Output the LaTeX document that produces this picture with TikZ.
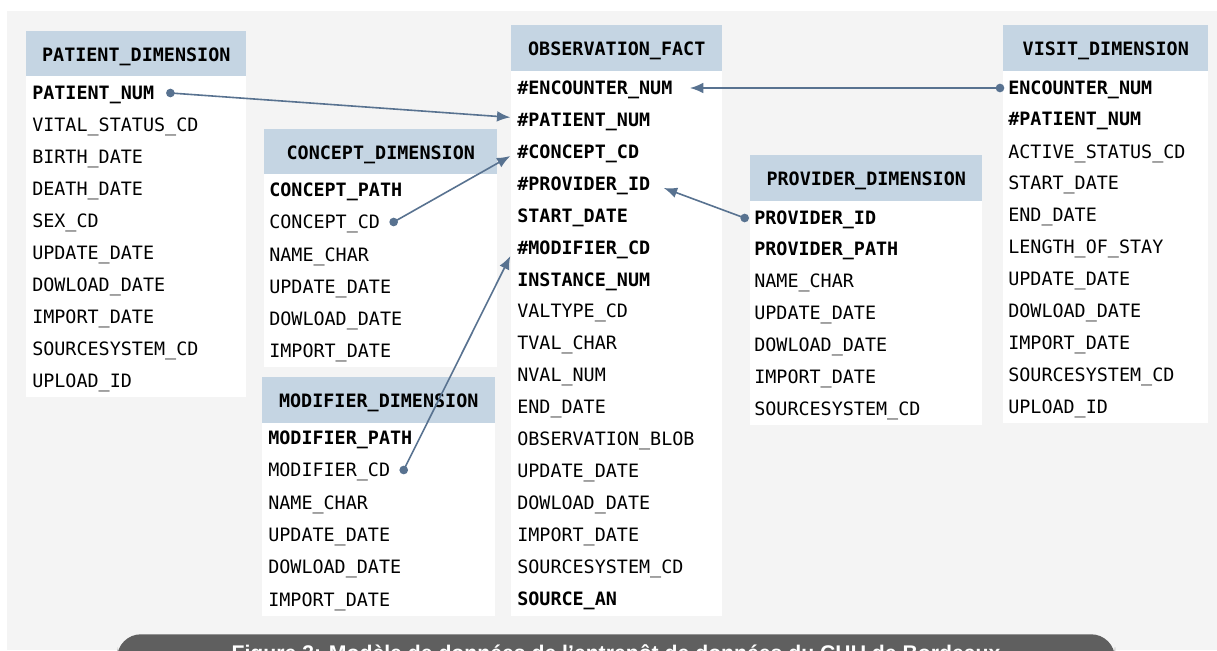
\documentclass[tikz,border=0pt]{standalone}
\usepackage{fontspec}
\setmonofont{DejaVu Sans Mono}
\setsansfont{Liberation Sans}
\usetikzlibrary{arrows.meta}
\definecolor{hdrblue}{HTML}{C5D5E3}
\definecolor{bggray}{HTML}{F4F4F4}
\definecolor{linkblue}{HTML}{587290}
\definecolor{capgray}{HTML}{5F5F5F}

\begin{document}
\begin{tikzpicture}[x=0.75pt, y=-0.75pt,
  hdr/.style={fill=hdrblue, inner sep=0pt, anchor=north west, text height=11pt, text depth=0pt, font=\ttfamily\bfseries\fontsize{13.8}{16}\selectfont},
  body/.style={fill=white, inner sep=0pt, anchor=north west},
  fld/.style={inner sep=0pt, anchor=west, text height=10pt, text depth=0pt, font=\ttfamily\fontsize{13.8}{16}\selectfont},
  key/.style={fld, font=\ttfamily\bfseries\fontsize{13.8}{16}\selectfont},
  link/.style={draw=linkblue, line width=1.2pt, -{Latex[length=10pt,width=8pt]}},
  dot/.style={circle, fill=linkblue, inner sep=0pt, minimum size=6.5pt}]
  \useasboundingbox (0,0) rectangle (1217,650);
  \fill[bggray] (7,11) rectangle (1217,650);

  % PATIENT_DIMENSION
  \node[hdr, minimum width=165pt, minimum height=33.75pt] (patHead) at (26,31) {PATIENT\_DIMENSION};
  \node[body, minimum width=165pt, minimum height=240.75pt] (patBody) at (26,76) {};
  \node[key] (pat1) at (32,93) {PATIENT\_NUM};
  \node[fld] (pat2) at (32,125) {VITAL\_STATUS\_CD};
  \node[fld] (pat3) at (32,157) {BIRTH\_DATE};
  \node[fld] (pat4) at (32,189) {DEATH\_DATE};
  \node[fld] (pat5) at (32,221) {SEX\_CD};
  \node[fld] (pat6) at (32,253) {UPDATE\_DATE};
  \node[fld] (pat7) at (32,285) {DOWLOAD\_DATE};
  \node[fld] (pat8) at (32,317) {IMPORT\_DATE};
  \node[fld] (pat9) at (32,349) {SOURCESYSTEM\_CD};
  \node[fld] (pat10) at (32,381) {UPLOAD\_ID};

  % CONCEPT_DIMENSION
  \node[hdr, minimum width=174.75pt, minimum height=33.75pt] (conHead) at (264,129) {CONCEPT\_DIMENSION};
  \node[body, minimum width=174.75pt, minimum height=144.75pt] (conBody) at (264,174) {};
  \node[key] (con1) at (269,190) {CONCEPT\_PATH};
  \node[fld] (con2) at (269,222) {CONCEPT\_CD};
  \node[fld] (con3) at (269,255) {NAME\_CHAR};
  \node[fld] (con4) at (269,287) {UPDATE\_DATE};
  \node[fld] (con5) at (269,319) {DOWLOAD\_DATE};
  \node[fld] (con6) at (269,351) {IMPORT\_DATE};

  % MODIFIER_DIMENSION
  \node[hdr, minimum width=174.75pt, minimum height=34.5pt] (modHead) at (262,377) {MODIFIER\_DIMENSION};
  \node[body, minimum width=174.75pt, minimum height=144.75pt] (modBody) at (262,423) {};
  \node[key] (mod1) at (268,438) {MODIFIER\_PATH};
  \node[fld] (mod2) at (268,470) {MODIFIER\_CD};
  \node[fld] (mod3) at (268,503) {NAME\_CHAR};
  \node[fld] (mod4) at (268,535) {UPDATE\_DATE};
  \node[fld] (mod5) at (268,567) {DOWLOAD\_DATE};
  \node[fld] (mod6) at (268,600) {IMPORT\_DATE};

  % OBSERVATION_FACT
  \node[hdr, minimum width=158.25pt, minimum height=34.5pt] (obsHead) at (511,25) {OBSERVATION\_FACT};
  \node[body, minimum width=158.25pt, minimum height=408.75pt] (obsBody) at (511,71) {};
  \node[key] (obs1) at (517,88) {\#ENCOUNTER\_NUM};
  \node[key] (obs2) at (517,120) {\#PATIENT\_NUM};
  \node[key] (obs3) at (517,152) {\#CONCEPT\_CD};
  \node[key] (obs4) at (517,184) {\#PROVIDER\_ID};
  \node[key] (obs5) at (517,216) {START\_DATE};
  \node[key] (obs6) at (517,248) {\#MODIFIER\_CD};
  \node[key] (obs7) at (517,280) {INSTANCE\_NUM};
  \node[fld] (obs8) at (517,311) {VALTYPE\_CD};
  \node[fld] (obs9) at (517,343) {TVAL\_CHAR};
  \node[fld] (obs10) at (517,375) {NVAL\_NUM};
  \node[fld] (obs11) at (517,407) {END\_DATE};
  \node[fld] (obs12) at (517,439) {OBSERVATION\_BLOB};
  \node[fld] (obs13) at (517,471) {UPDATE\_DATE};
  \node[fld] (obs14) at (517,503) {DOWLOAD\_DATE};
  \node[fld] (obs15) at (517,535) {IMPORT\_DATE};
  \node[fld] (obs16) at (517,567) {SOURCESYSTEM\_CD};
  \node[key] (obs17) at (517,599) {SOURCE\_AN};

  % PROVIDER_DIMENSION
  \node[hdr, minimum width=174pt, minimum height=34.5pt] (prvHead) at (750,155) {PROVIDER\_DIMENSION};
  \node[body, minimum width=174pt, minimum height=168pt] (prvBody) at (750,201) {};
  \node[key] (prv1) at (754,218) {PROVIDER\_ID};
  \node[key] (prv2) at (754,249) {PROVIDER\_PATH};
  \node[fld] (prv3) at (754,281) {NAME\_CHAR};
  \node[fld] (prv4) at (754,313) {UPDATE\_DATE};
  \node[fld] (prv5) at (754,345) {DOWLOAD\_DATE};
  \node[fld] (prv6) at (754,377) {IMPORT\_DATE};
  \node[fld] (prv7) at (754,409) {SOURCESYSTEM\_CD};

  % VISIT_DIMENSION
  \node[hdr, minimum width=153.75pt, minimum height=34.5pt] (visHead) at (1003,25) {VISIT\_DIMENSION};
  \node[body, minimum width=153.75pt, minimum height=264pt] (visBody) at (1003,71) {};
  \node[key] (vis1) at (1008,88) {ENCOUNTER\_NUM};
  \node[key] (vis2) at (1008,119) {\#PATIENT\_NUM};
  \node[fld] (vis3) at (1008,152) {ACTIVE\_STATUS\_CD};
  \node[fld] (vis4) at (1008,183) {START\_DATE};
  \node[fld] (vis5) at (1008,215) {END\_DATE};
  \node[fld] (vis6) at (1008,247) {LENGTH\_OF\_STAY};
  \node[fld] (vis7) at (1008,279) {UPDATE\_DATE};
  \node[fld] (vis8) at (1008,311) {DOWLOAD\_DATE};
  \node[fld] (vis9) at (1008,343) {IMPORT\_DATE};
  \node[fld] (vis10) at (1008,375) {SOURCESYSTEM\_CD};
  \node[fld] (vis11) at (1008,407) {UPLOAD\_ID};

  % links
  \node[dot] (patDot) at ([xshift=12pt]pat1.east) {};
  \node[dot] (conDot) at ([xshift=10pt]con2.east) {};
  \node[dot] (modDot) at ([xshift=10pt]mod2.east) {};
  \node[dot] (visDot) at ([xshift=-6pt]vis1.west) {};
  \node[dot] (prvDot) at ([xshift=-7pt]prv1.west) {};
  \draw[link] (patDot.center) -- ([xshift=-5pt,yshift=2pt]obs2.west);
  \draw[link] (conDot.center) -- ([xshift=-5pt,yshift=-3pt]obs3.west);
  \draw[link] (modDot.center) -- ([xshift=-5pt,yshift=-6pt]obs6.west);
  \draw[link] (visDot.center) -- ([xshift=13pt]obs1.east);
  \draw[link] (prvDot.center) -- ([xshift=10pt,yshift=-3pt]obs4.east);

  % caption
  \node[fill=capgray, rounded corners=18pt, anchor=north, minimum width=748.5pt, minimum height=27.75pt,
    text=white, text height=11.5pt, text depth=0pt, font=\sffamily\bfseries\fontsize{15.9}{18}\selectfont]
    (caption) at (616,634) {Figure 3: Modèle de données de l'entrepôt de données du CHU de Bordeaux};
\end{tikzpicture}
\end{document}
